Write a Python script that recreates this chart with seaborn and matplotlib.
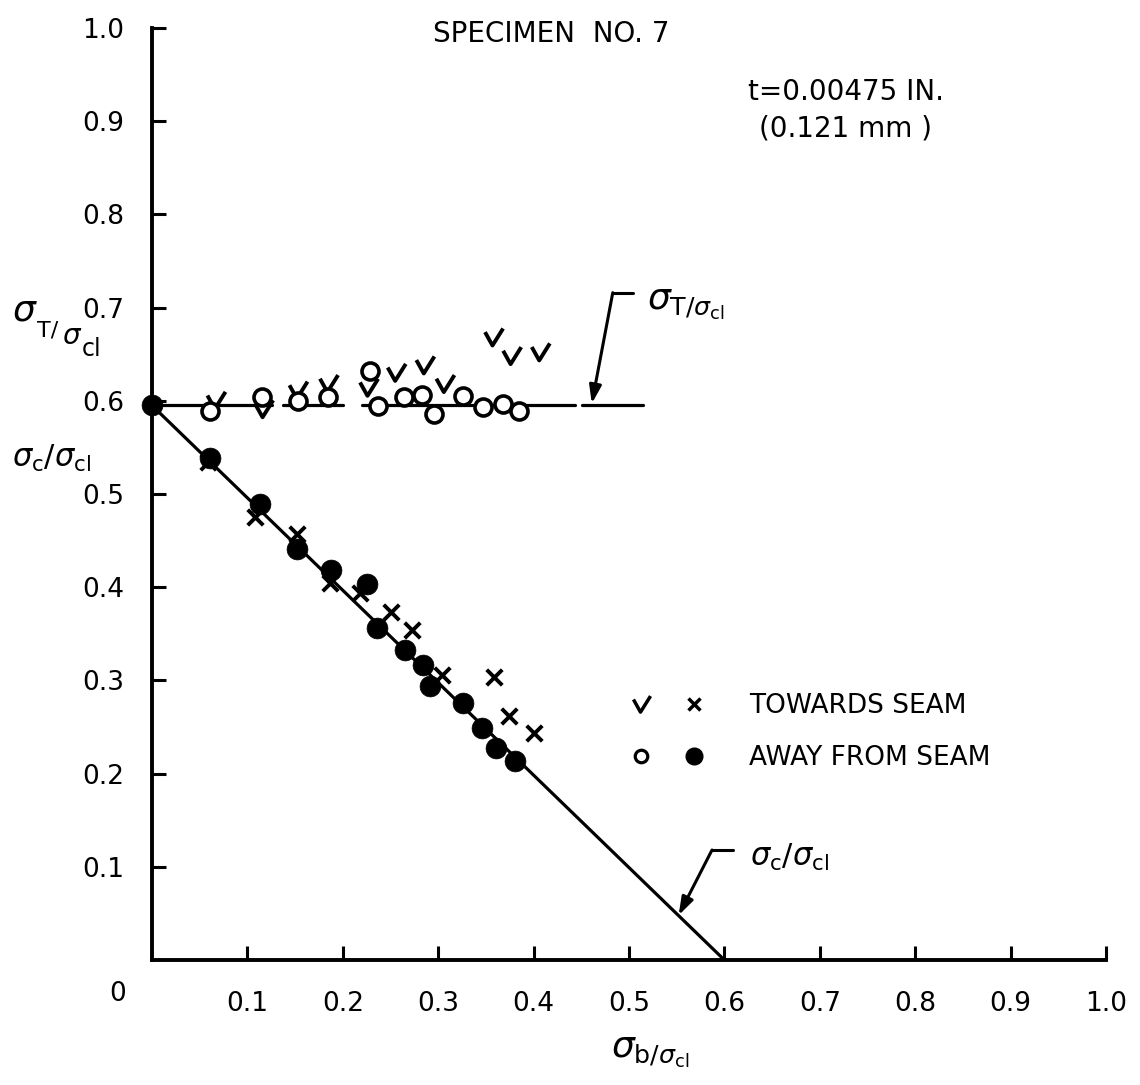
import numpy as np
import pandas as pd
import matplotlib
matplotlib.use("Agg")
import matplotlib.pyplot as plt
import seaborn as sns
from matplotlib.path import Path
from matplotlib.lines import Line2D
from matplotlib.legend_handler import HandlerTuple

# ---------------- data ----------------
# sigma_T / sigma_cl  (upper group)
towards_T_x = [0.067, 0.117, 0.153, 0.185, 0.227, 0.256, 0.286, 0.307, 0.358, 0.377, 0.407]
towards_T_y = [0.600, 0.591, 0.611, 0.618, 0.614, 0.630, 0.638, 0.618, 0.668, 0.648, 0.652]
away_T_x = [0.061, 0.115, 0.153, 0.185, 0.228, 0.237, 0.264, 0.283, 0.296, 0.326, 0.347, 0.368, 0.385]
away_T_y = [0.589, 0.604, 0.600, 0.604, 0.632, 0.594, 0.604, 0.606, 0.586, 0.605, 0.593, 0.597, 0.589]
# sigma_c / sigma_cl  (lower group)
towards_c_x = [0.059, 0.108, 0.152, 0.187, 0.218, 0.251, 0.273, 0.304, 0.358, 0.374, 0.400]
towards_c_y = [0.534, 0.475, 0.457, 0.405, 0.394, 0.373, 0.354, 0.306, 0.304, 0.262, 0.244]
away_c_x = [0.000, 0.061, 0.113, 0.152, 0.188, 0.225, 0.236, 0.265, 0.284, 0.291, 0.326, 0.346, 0.361, 0.380]
away_c_y = [0.595, 0.539, 0.489, 0.441, 0.418, 0.403, 0.356, 0.333, 0.317, 0.294, 0.276, 0.249, 0.228, 0.213]

# reference lines
T_line_x = [0.000, 0.126, 0.137, 0.200, 0.220, 0.443, 0.451, 0.515]
T_line_y = [0.595, 0.595, 0.595, 0.595, 0.595, 0.595, 0.595, 0.595]
T_line_seg = [0, 0, 1, 1, 2, 2, 3, 3]
c_line_x = [0.0, 0.6]
c_line_y = [0.595, 0.0]

x_ticks = [0.1, 0.2, 0.3, 0.4, 0.5, 0.6, 0.7, 0.8, 0.9, 1.0]
x_tick_labels = ["0.1", "0.2", "0.3", "0.4", "0.5", "0.6", "0.7", "0.8", "0.9", "1.0"]
y_ticks = [0.1, 0.2, 0.3, 0.4, 0.5, 0.6, 0.7, 0.8, 0.9, 1.0]
y_tick_labels = ["0.1", "0.2", "0.3", "0.4", "0.5", "0.6", "0.7", "0.8", "0.9", "1.0"]

# ---------------- style ----------------
sns.set_theme(style="ticks")
plt.rcParams["font.family"] = ["DejaVu Sans"]
plt.rcParams["mathtext.fontset"] = "dejavusans"

W, H = 1140, 1085
fig = plt.figure(figsize=(W / 100, H / 100), dpi=100)
ax = fig.add_axes([152 / W, 125 / H, 954 / W, 932 / H])

check_marker = Path([(-0.40, 0.25), (-0.05, -0.38), (0.45, 0.42)],
                    [Path.MOVETO, Path.LINETO, Path.LINETO])

K = "black"

# lines
dfT = pd.DataFrame({"x": T_line_x, "y": T_line_y, "seg": T_line_seg})
sns.lineplot(data=dfT, x="x", y="y", units="seg", estimator=None, sort=False,
             color=K, lw=2.3, ax=ax, legend=False)
dfc = pd.DataFrame({"x": c_line_x, "y": c_line_y})
sns.lineplot(data=dfc, x="x", y="y", estimator=None, sort=False,
             color=K, lw=2.3, ax=ax, legend=False)

# points
sns.scatterplot(x=towards_T_x, y=towards_T_y, marker=check_marker, s=190,
                facecolors="none", edgecolor=K, linewidth=2.8, ax=ax, zorder=3)
sns.scatterplot(x=away_T_x, y=away_T_y, marker="o", s=150,
                facecolors="white", edgecolor=K, linewidth=2.6, ax=ax, zorder=3)
sns.scatterplot(x=towards_c_x, y=towards_c_y, marker="x", s=125,
                color=K, linewidth=2.8, ax=ax, zorder=3)
sns.scatterplot(x=away_c_x, y=away_c_y, marker="o", s=225,
                color=K, edgecolor=K, linewidth=0.5, ax=ax, zorder=4, clip_on=False)

# axes
ax.set_xlim(0, 1.0)
ax.set_ylim(0, 1.0)
ax.set_xticks(x_ticks)
ax.set_xticklabels(x_tick_labels)
ax.set_yticks(y_ticks)
ax.set_yticklabels(y_tick_labels)
ax.tick_params(axis="both", direction="in", length=10, width=2.2, colors=K,
               labelsize=19)
ax.tick_params(axis="x", pad=22)
ax.tick_params(axis="y", pad=20)
sns.despine(ax=ax)
for s in ["left", "bottom"]:
    ax.spines[s].set_linewidth(2.8)
    ax.spines[s].set_color(K)
ax.set_xlabel("")
ax.set_ylabel("")
ax.text(-0.036, -0.037, "0", transform=ax.transData, ha="center", va="center",
        fontsize=19, color=K, clip_on=False)


def fpx(x, y):
    """figure fraction from pixel position (origin top-left)."""
    return x / W, 1 - y / H


# texts
ax.text(0.419, 0.994, "SPECIMEN  NO. 7", ha="center", va="center", fontsize=20,
        color=K, clip_on=False)
ax.text(0.727, 0.931, "t=0.00475 IN.", ha="center", va="center", fontsize=20,
        color=K)
ax.text(0.727, 0.892, "(0.121 mm )", ha="center", va="center", fontsize=20,
        color=K)

lab_T = r"$\sigma_{\mathrm{T}/\sigma_{\mathrm{cl}}}$"
lab_c = r"$\sigma_{\mathrm{c}}/\sigma_{\mathrm{cl}}$"
lab_b = r"$\sigma_{\mathrm{b}/\sigma_{\mathrm{cl}}}$"

# left axis label sigma_T / sigma_cl, built as a staircase so it clears "0.7"
for txt, px, py, fs in [(r"$\sigma$", 12, 320, 26),
                        ("T/", 37, 337, 16),
                        (r"$\sigma$", 62, 344, 20),
                        ("cl", 82, 356, 17)]:
    fx, fy = fpx(px, py)
    fig.text(fx, fy, txt, ha="left", va="baseline", fontsize=fs, color=K)

ax.text(-0.147, 0.555, lab_c, ha="left", va="top", fontsize=22, color=K,
        clip_on=False)
fx, fy = fpx(650, 1035)
fig.text(fx, fy, lab_b, ha="center", va="top", fontsize=26, color=K)

# annotation: sigma_T / sigma_cl
ax.text(0.519, 0.722, lab_T, ha="left", va="top", fontsize=26, color=K)
ax.plot([0.504, 0.483], [0.716, 0.716], color=K, lw=2.2)
ax.annotate("", xy=(0.461, 0.597), xytext=(0.483, 0.716),
            arrowprops=dict(arrowstyle="-|>,head_length=0.9,head_width=0.3",
                            color=K, lw=2.2, shrinkA=0, shrinkB=0))
# annotation: sigma_c / sigma_cl
ax.text(0.627, 0.127, lab_c, ha="left", va="top", fontsize=22, color=K)
ax.plot([0.609, 0.587], [0.118, 0.118], color=K, lw=2.2)
ax.annotate("", xy=(0.552, 0.048), xytext=(0.587, 0.118),
            arrowprops=dict(arrowstyle="-|>,head_length=0.9,head_width=0.3",
                            color=K, lw=2.2, shrinkA=0, shrinkB=0))

# legend
h_check = Line2D([], [], marker=check_marker, ls="none", markersize=13,
                 markerfacecolor="none", markeredgecolor=K, markeredgewidth=2.5)
h_x = Line2D([], [], marker="x", ls="none", markersize=9, color=K,
             markeredgewidth=2.5)
h_open = Line2D([], [], marker="o", ls="none", markersize=9,
                markerfacecolor="white", markeredgecolor=K, markeredgewidth=2.3)
h_fill = Line2D([], [], marker="o", ls="none", markersize=12, color=K)
leg = ax.legend([(h_check, h_x), (h_open, h_fill)],
                ["TOWARDS SEAM", "AWAY FROM SEAM"],
                handler_map={tuple: HandlerTuple(ndivide=None, pad=1.0)},
                loc="upper left", bbox_to_anchor=(0.488, 0.298),
                frameon=False, fontsize=19, handlelength=3.0,
                handletextpad=1.6, labelspacing=1.0, borderaxespad=0)
for t in leg.get_texts():
    t.set_color(K)

fig.savefig("out.png", dpi=100, facecolor="white")
